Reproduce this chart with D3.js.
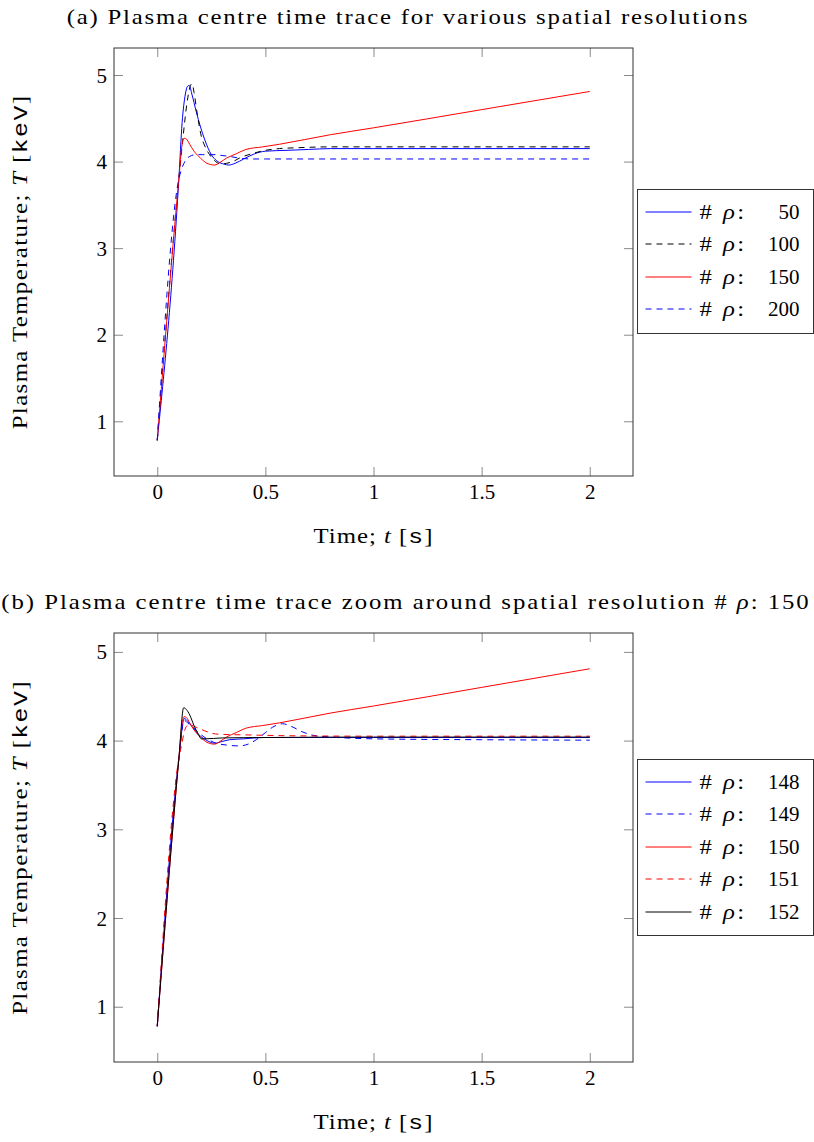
<!DOCTYPE html>
<html lang="en">
<head>
    <meta charset="UTF-8">
    <title>plasma-centre-time-trace</title>
    <script type="application/javascript" src="https://cdn.jsdelivr.net/npm/d3@7/dist/d3.min.js"></script>
    <style>
        body {
            margin: 0;
            background: #fff;
        }
        svg text {
            font-family: "Liberation Serif", "Times New Roman", serif;
            font-size: 21px;
            fill: #000;
        }
        .tt {
            font-family: "Liberation Mono", monospace;
        }
        .it {
            font-style: italic;
        }
    </style>
</head>
<body>
<svg class="graph"></svg>
<script type="application/javascript">
    // ticks
    var xTicks = [0, 0.5, 1, 1.5, 2];
    var yTicks = [1, 2, 3, 4, 5];

    // (a) various spatial resolutions
    var t50 = [0, 0.1, 0.115, 0.13, 0.14, 0.148, 0.16, 0.18, 0.2, 0.22, 0.25, 0.28, 0.31, 0.33, 0.36, 0.4, 0.45, 0.5, 0.6, 0.7, 0.8, 1.0, 1.5, 2.0];
    var T50 = [0.78, 3.8, 4.45, 4.78, 4.87, 4.88, 4.78, 4.58, 4.4, 4.25, 4.08, 4.0, 3.97, 3.96, 3.98, 4.03, 4.09, 4.12, 4.13, 4.14, 4.15, 4.15, 4.15, 4.15];

    var t100 = [0, 0.1, 0.12, 0.135, 0.15, 0.161, 0.17, 0.185, 0.204, 0.22, 0.242, 0.27, 0.296, 0.32, 0.35, 0.38, 0.45, 0.5, 0.565, 0.65, 0.8, 1.0, 2.0];
    var T100 = [0.78, 3.8, 4.3, 4.63, 4.85, 4.9, 4.8, 4.55, 4.29, 4.18, 4.08, 4.0, 3.97, 3.98, 4.0, 4.04, 4.1, 4.13, 4.15, 4.16, 4.17, 4.17, 4.17];

    var t150 = [0, 0.1, 0.115, 0.124, 0.135, 0.15, 0.17, 0.2, 0.23, 0.265, 0.29, 0.32, 0.365, 0.41, 0.488, 0.565, 0.8, 1.0, 1.5, 2.0];
    var T150 = [0.78, 3.8, 4.2, 4.27, 4.26, 4.2, 4.12, 4.04, 3.98, 3.96, 3.99, 4.04, 4.09, 4.14, 4.17, 4.2, 4.31, 4.39, 4.6, 4.81];

    var t200 = [0, 0.1, 0.115, 0.13, 0.15, 0.18, 0.21, 0.234, 0.27, 0.3, 0.334, 0.38, 0.44, 0.5, 1.0, 2.0];
    var T200 = [0.78, 3.8, 3.93, 4.01, 4.06, 4.08, 4.08, 4.08, 4.08, 4.07, 4.06, 4.04, 4.03, 4.03, 4.03, 4.03];

    // (b) zoom around 150
    var t148 = [0, 0.1, 0.125, 0.14, 0.16, 0.18, 0.2, 0.23, 0.265, 0.3, 0.335, 0.4, 0.49, 0.6, 1.0, 2.0];
    var T148 = [0.78, 3.8, 4.25, 4.22, 4.16, 4.1, 4.05, 4.0, 3.97, 3.99, 4.01, 4.02, 4.035, 4.035, 4.035, 4.035];

    var t149 = [0, 0.1, 0.125, 0.14, 0.17, 0.196, 0.23, 0.273, 0.32, 0.38, 0.42, 0.458, 0.5, 0.54, 0.58, 0.62, 0.67, 0.72, 0.8, 0.87, 1.0, 1.5, 2.0];
    var T149 = [0.78, 3.8, 4.23, 4.2, 4.14, 4.08, 4.02, 3.97, 3.95, 3.94, 3.96, 4.01, 4.09, 4.16, 4.19, 4.16, 4.1, 4.06, 4.04, 4.03, 4.02, 4.01, 4.005];

    var t151 = [0, 0.1, 0.114, 0.125, 0.135, 0.15, 0.18, 0.22, 0.257, 0.3, 0.4, 0.49, 0.6, 1.0, 2.0];
    var T151 = [0.78, 3.8, 3.97, 4.1, 4.16, 4.18, 4.15, 4.11, 4.08, 4.07, 4.065, 4.06, 4.055, 4.05, 4.05];

    var t152 = [0, 0.1, 0.122, 0.135, 0.15, 0.17, 0.19, 0.204, 0.22, 0.3, 0.5, 1.0, 2.0];
    var T152 = [0.78, 3.8, 4.37, 4.35, 4.29, 4.17, 4.07, 4.02, 4.02, 4.03, 4.035, 4.04, 4.04];

    var width = 814;
    var height = 1142;

    var svg = d3.select('.graph')
        .attr('width', width)
        .attr('height', height);

    svg.append('rect')
        .attr('width', width)
        .attr('height', height)
        .attr('fill', '#fff');

    // computer modern runs wider than times: widen a bit by scale, the rest by letter spacing
    function placeText(sel, x0, y0, w, rot, anchor) {
        sel.attr('text-anchor', anchor || 'middle');
        var n = sel.text().length;
        var bw = sel.node().getComputedTextLength();
        var s = Math.min(1.18, w / bw);
        var ls = Math.max(0, (w / s - bw) / n);
        sel.attr('letter-spacing', ls.toFixed(2))
            .attr('transform', 'translate(' + x0 + ',' + y0 + ')' + (rot ? ' rotate(-90)' : '') +
                ' scale(' + s.toFixed(3) + ',1)');
    }

    function drawPanel(p) {
        var g = svg.append('g');

        var allT = d3.merge(p.series.map(function (s) { return s.t; }));
        var allV = d3.merge(p.series.map(function (s) { return s.T; }));
        var ex = d3.extent(allT), ey = d3.extent(allV);
        var px = (ex[1] - ex[0]) * 0.1, py = (ey[1] - ey[0]) * 0.1;

        var x = d3.scaleLinear().domain([ex[0] - px, ex[1] + px]).range([p.left, p.right]);
        var y = d3.scaleLinear().domain([ey[0] - py, ey[1] + py]).range([p.bottom, p.top]);

        var line = d3.line()
            .x(function (d) { return x(d[0]); })
            .y(function (d) { return y(d[1]); })
            .curve(d3.curveMonotoneX);

        g.append('g')
            .selectAll('path')
            .data(p.series)
            .enter()
            .append('path')
            .attr('d', function (s) { return line(d3.zip(s.t, s.T)); })
            .attr('fill', 'none')
            .attr('stroke', function (s) { return s.color; })
            .attr('stroke-width', 1)
            .attr('stroke-dasharray', function (s) { return s.dash ? '6,5' : null; });

        // ticks on all four sides, pointing in
        var tl = 9;
        var axB = g.append('g').attr('transform', 'translate(0,' + p.bottom + ')')
            .call(d3.axisBottom(x).tickValues(xTicks).tickSizeInner(-tl).tickSizeOuter(0).tickFormat(d3.format('')));
        var axT = g.append('g').attr('transform', 'translate(0,' + p.top + ')')
            .call(d3.axisTop(x).tickValues(xTicks).tickSizeInner(-tl).tickSizeOuter(0).tickFormat(''));
        var axL = g.append('g').attr('transform', 'translate(' + p.left + ',0)')
            .call(d3.axisLeft(y).tickValues(yTicks).tickSizeInner(-tl).tickSizeOuter(0).tickFormat(d3.format('')));
        var axR = g.append('g').attr('transform', 'translate(' + p.right + ',0)')
            .call(d3.axisRight(y).tickValues(yTicks).tickSizeInner(-tl).tickSizeOuter(0).tickFormat(''));

        [axB, axT, axL, axR].forEach(function (a) {
            a.attr('font-family', null).attr('font-size', null);
            a.select('.domain').remove();
            a.selectAll('.tick line').attr('stroke', '#8a8a8a');
        });
        axB.selectAll('.tick text').attr('dy', null).attr('y', 23);
        axL.selectAll('.tick text').attr('dy', null).attr('x', -7).attr('y', 7);

        g.append('rect')
            .attr('x', p.left)
            .attr('y', p.top)
            .attr('width', p.right - p.left)
            .attr('height', p.bottom - p.top)
            .attr('fill', 'none')
            .attr('stroke', '#333')
            .attr('stroke-width', 1);

        var cx = (p.left + p.right) / 2;
        var cy = (p.top + p.bottom) / 2;

        // title
        var title = g.append('text');
        title.append('tspan').text(p.title);
        if (p.titleRho) {
            title.append('tspan').text(' # ');
            title.append('tspan').attr('class', 'it').text('\u03c1');
            title.append('tspan').text(': ' + p.titleRho);
        }
        placeText(title, p.titleX, p.top - 24, p.titleW, false);

        // x label
        var xl = g.append('text');
        xl.append('tspan').text('Time; ');
        xl.append('tspan').attr('class', 'it').text('t');
        xl.append('tspan').text(' [');
        xl.append('tspan').attr('class', 'tt').text('s');
        xl.append('tspan').text(']');
        placeText(xl, cx, p.bottom + 67, 120, false);

        // y label
        var yl = g.append('text');
        yl.append('tspan').text('Plasma Temperature; ');
        yl.append('tspan').attr('class', 'it').text('T');
        yl.append('tspan').text(' [');
        yl.append('tspan').attr('class', 'tt').text('keV');
        yl.append('tspan').text(']');
        placeText(yl, 27, cy, 335, true);

        // legend
        var step = 32.5;
        var lh = Math.round((p.series.length - 1) * step + 46);
        var ly = Math.round(cy - 1 - lh / 2) + 0.5;
        var lx = 637.5;
        var leg = g.append('g');
        leg.append('rect')
            .attr('x', lx)
            .attr('y', ly)
            .attr('width', 176)
            .attr('height', lh)
            .attr('fill', '#fff')
            .attr('stroke', '#333')
            .attr('stroke-width', 1);

        var rows = leg.selectAll('g.row')
            .data(p.series)
            .enter()
            .append('g')
            .attr('class', 'row')
            .attr('transform', function (s, i) { return 'translate(0,' + Math.round(ly + 22 + i * step) + ')'; });

        // sample lines sit on a pixel boundary so they come out soft, as in the reference
        rows.append('line')
            .attr('x1', lx + 8)
            .attr('x2', lx + 54)
            .attr('stroke', function (s) { return s.color; })
            .attr('stroke-width', 1)
            .attr('stroke-dasharray', function (s) { return s.dash ? '6,5' : null; });

        var lt = rows.append('text');
        lt.append('tspan').text('# ');
        lt.append('tspan').attr('class', 'it').text('\u03c1');
        lt.append('tspan').text(':');
        lt.each(function () { placeText(d3.select(this), lx + 62, 7, 47, false, 'start'); });

        rows.append('text')
            .attr('x', lx + 162)
            .attr('y', 7)
            .attr('text-anchor', 'end')
            .text(function (s) { return s.label; });
    }

    drawPanel({
        left: 114, right: 633, top: 48, bottom: 476,
        title: '(a) Plasma centre time trace for various spatial resolutions',
        titleX: 408, titleW: 683,
        series: [
            {label: '50', t: t50, T: T50, color: '#0000ff', dash: false},
            {label: '100', t: t100, T: T100, color: '#000000', dash: true},
            {label: '150', t: t150, T: T150, color: '#ff0000', dash: false},
            {label: '200', t: t200, T: T200, color: '#0000ff', dash: true}
        ]
    });

    drawPanel({
        left: 114, right: 633, top: 633, bottom: 1062,
        title: '(b) Plasma centre time trace zoom around spatial resolution',
        titleRho: '150',
        titleX: 406, titleW: 810,
        series: [
            {label: '148', t: t148, T: T148, color: '#0000ff', dash: false},
            {label: '149', t: t149, T: T149, color: '#0000ff', dash: true},
            {label: '150', t: t150, T: T150, color: '#ff0000', dash: false},
            {label: '151', t: t151, T: T151, color: '#ff0000', dash: true},
            {label: '152', t: t152, T: T152, color: '#000000', dash: false}
        ]
    });
</script>
</body>
</html>
